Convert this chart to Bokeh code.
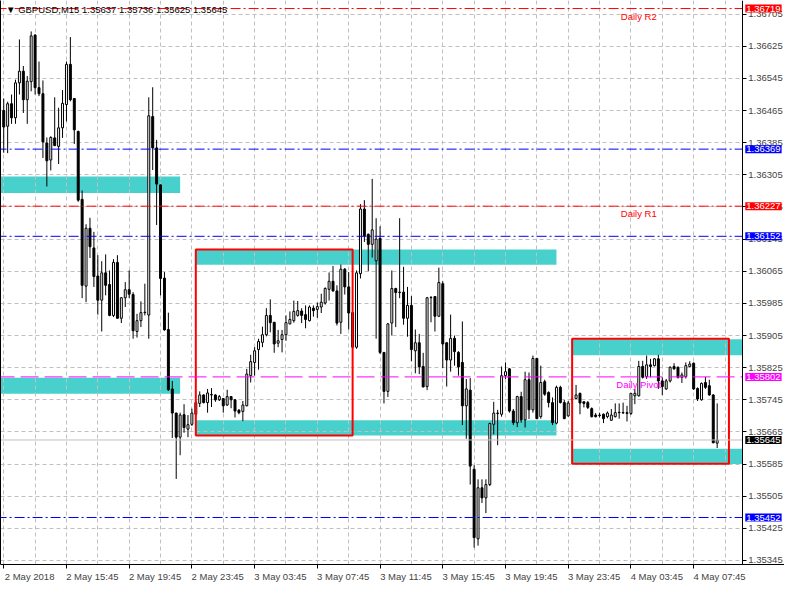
from bokeh.plotting import figure
from bokeh.models import (Range1d, FixedTicker, Label, ColumnDataSource,
                          PrintfTickFormatter, LinearAxis)
from bokeh.embed import file_html
from bokeh.resources import INLINE

# ---------------- data (GBPUSD M15) ----------------
OPEN = [1.36465,1.36426,1.36482,1.36447,1.36534,1.36563,1.36492,1.36537,1.36653,1.36522,
        1.36507,1.36384,1.36342,1.36397,1.36376,1.36422,1.36480,1.36580,1.36495,1.36413,
        1.36244,1.36028,1.36172,1.36123,1.36053,1.35993,1.36061,1.36032,1.35955,1.36087,
        1.35948,1.35999,1.36019,1.36007,1.35915,1.35942,1.35962,1.35956,1.36450,1.36372,
        1.36280,1.36048,1.35920,1.35772,1.35712,1.35652,1.35708,1.35672,1.35684,1.35709,
        1.35736,1.35757,1.35738,1.35758,1.35757,1.35745,1.35748,1.35732,1.35753,1.35745,
        1.35719,1.35716,1.35730,1.35805,1.35838,1.35870,1.35888,1.35907,1.35955,1.35938,
        1.35886,1.35895,1.35907,1.35934,1.35942,1.35955,1.35966,1.35957,1.35942,1.35973,
        1.35970,1.35976,1.35986,1.36020,1.36040,1.36016,1.35938,1.36070,1.36026,1.35962,
        1.35876,1.36059,1.36220,1.36157,1.36132,1.36091,1.36147,1.35863,1.35766,1.35936,
        1.36022,1.36012,1.36013,1.35948,1.35980,1.35867,1.35887,1.35828,1.35778,1.35999,
        1.36002,1.35953,1.36034,1.35887,1.35844,1.35898,1.35863,1.35838,1.35730,1.35769,
        1.35572,1.35399,1.35526,1.35501,1.35534,1.35684,1.35712,1.35709,1.35805,1.35822,
        1.35717,1.35688,1.35753,1.35695,1.35795,1.35720,1.35848,1.35703,1.35790,1.35763,
        1.35738,1.35687,1.35776,1.35738,1.35705,1.35747,1.35748,1.35761,1.35740,1.35738,
        1.35723,1.35707,1.35707,1.35709,1.35703,1.35694,1.35703,1.35713,1.35713,1.35713,
        1.35711,1.35755,1.35755,1.35828,1.35803,1.35832,1.35830,1.35847,1.35792,1.35772,
        1.35792,1.35828,1.35826,1.35801,1.35803,1.35828,1.35836,1.35773,1.35745,1.35788,
        1.35780,1.35757,1.35637]
HIGH = [1.36495,1.36487,1.36505,1.36542,1.36642,1.36576,1.36551,1.36662,1.36655,1.36587,
        1.36540,1.36398,1.36401,1.36498,1.36472,1.36516,1.36587,1.36648,1.36495,1.36415,
        1.36266,1.36182,1.36198,1.36163,1.36105,1.36090,1.36107,1.36067,1.36095,1.36105,
        1.36001,1.36038,1.36067,1.36013,1.35959,1.35990,1.36034,1.36498,1.36523,1.36392,
        1.36281,1.36063,1.35962,1.35792,1.35713,1.35713,1.35734,1.35707,1.35723,1.35740,
        1.35766,1.35759,1.35772,1.35774,1.35759,1.35757,1.35749,1.35770,1.35754,1.35747,
        1.35722,1.35742,1.35822,1.35857,1.35876,1.35897,1.35927,1.35973,1.35995,1.35938,
        1.35919,1.35919,1.35955,1.35965,1.35992,1.35991,1.35973,1.35980,1.35980,1.35980,
        1.35987,1.36009,1.36025,1.36062,1.36078,1.36030,1.36082,1.36073,1.36063,1.35963,
        1.36067,1.36232,1.36242,1.36159,1.36295,1.36197,1.36177,1.35864,1.35936,1.36067,
        1.36024,1.36197,1.36076,1.36026,1.36003,1.35920,1.35909,1.35862,1.36001,1.36003,
        1.36003,1.36074,1.36040,1.35888,1.35957,1.35905,1.35866,1.35940,1.35797,1.35799,
        1.35582,1.35547,1.35547,1.35547,1.35688,1.35740,1.35720,1.35828,1.35838,1.35824,
        1.35722,1.35755,1.35765,1.35815,1.35813,1.35855,1.35849,1.35830,1.35795,1.35766,
        1.35751,1.35780,1.35780,1.35745,1.35742,1.35751,1.35782,1.35763,1.35742,1.35742,
        1.35726,1.35712,1.35713,1.35711,1.35716,1.35722,1.35736,1.35736,1.35738,1.35730,
        1.35762,1.35772,1.35842,1.35842,1.35855,1.35847,1.35849,1.35857,1.35801,1.35797,
        1.35828,1.35836,1.35828,1.35813,1.35838,1.35841,1.35838,1.35776,1.35788,1.35802,
        1.35795,1.35759,1.35736]
LOW = [1.36360,1.36359,1.36432,1.36432,1.36505,1.36459,1.36432,1.36513,1.36505,1.36501,
       1.36347,1.36276,1.36316,1.36376,1.36332,1.36397,1.36438,1.36488,1.36382,1.36238,
       1.35998,1.35988,1.36098,1.36026,1.35957,1.35915,1.36005,1.35953,1.35951,1.35947,
       1.35936,1.35976,1.35998,1.35897,1.35900,1.35926,1.35955,1.35897,1.36317,1.36180,
       1.36005,1.35917,1.35767,1.35650,1.35548,1.35607,1.35663,1.35652,1.35680,1.35703,
       1.35727,1.35736,1.35713,1.35727,1.35740,1.35742,1.35713,1.35730,1.35724,1.35701,
       1.35709,1.35692,1.35729,1.35788,1.35805,1.35820,1.35876,1.35903,1.35913,1.35862,
       1.35876,1.35863,1.35892,1.35933,1.35937,1.35952,1.35936,1.35923,1.35940,1.35952,
       1.35949,1.35961,1.35982,1.35992,1.36014,1.35930,1.35909,1.36007,1.35920,1.35872,
       1.35872,1.36047,1.36138,1.36065,1.36099,1.35897,1.35859,1.35736,1.35752,1.35905,
       1.35926,1.35998,1.35932,1.35902,1.35841,1.35811,1.35809,1.35776,1.35769,1.35938,
       1.35915,1.35951,1.35824,1.35778,1.35815,1.35830,1.35805,1.35682,1.35648,1.35534,
       1.35377,1.35382,1.35488,1.35463,1.35530,1.35659,1.35632,1.35703,1.35797,1.35713,
       1.35682,1.35677,1.35688,1.35676,1.35697,1.35713,1.35697,1.35698,1.35755,1.35726,
       1.35682,1.35684,1.35736,1.35697,1.35703,1.35743,1.35747,1.35709,1.35726,1.35722,
       1.35701,1.35701,1.35701,1.35687,1.35699,1.35693,1.35701,1.35698,1.35711,1.35691,
       1.35707,1.35734,1.35753,1.35798,1.35797,1.35801,1.35828,1.35772,1.35757,1.35770,
       1.35788,1.35820,1.35798,1.35787,1.35798,1.35826,1.35770,1.35742,1.35743,1.35772,
       1.35755,1.35637,1.35625]
CLOSE = [1.36424,1.36482,1.36447,1.36534,1.36563,1.36492,1.36538,1.36651,1.36522,1.36507,
         1.36387,1.36340,1.36398,1.36378,1.36422,1.36483,1.36580,1.36492,1.36417,1.36242,
         1.36030,1.36172,1.36126,1.36052,1.35993,1.36061,1.36030,1.35955,1.36087,1.35948,
         1.35999,1.36019,1.36008,1.35917,1.35942,1.35962,1.35963,1.36452,1.36372,1.36282,
         1.36047,1.35919,1.35770,1.35712,1.35652,1.35707,1.35676,1.35683,1.35712,1.35738,
         1.35757,1.35738,1.35762,1.35757,1.35745,1.35753,1.35730,1.35753,1.35745,1.35717,
         1.35713,1.35732,1.35809,1.35840,1.35867,1.35890,1.35907,1.35955,1.35937,1.35884,
         1.35892,1.35907,1.35937,1.35945,1.35965,1.35967,1.35955,1.35945,1.35976,1.35967,
         1.35977,1.35988,1.36022,1.36040,1.36016,1.35936,1.36070,1.36026,1.35961,1.35876,
         1.36061,1.36220,1.36153,1.36132,1.36168,1.36145,1.35863,1.35766,1.35934,1.36022,
         1.36012,1.36013,1.35948,1.35980,1.35870,1.35887,1.35827,1.35777,1.35999,1.36000,
         1.35953,1.36037,1.35884,1.35844,1.35898,1.35865,1.35827,1.35730,1.35772,1.35580,
         1.35402,1.35526,1.35501,1.35534,1.35686,1.35712,1.35711,1.35805,1.35815,1.35717,
         1.35688,1.35753,1.35695,1.35795,1.35720,1.35848,1.35698,1.35788,1.35759,1.35738,
         1.35688,1.35776,1.35738,1.35698,1.35737,1.35746,1.35757,1.35737,1.35736,1.35726,
         1.35703,1.35703,1.35706,1.35698,1.35712,1.35707,1.35713,1.35714,1.35712,1.35711,
         1.35761,1.35761,1.35828,1.35801,1.35832,1.35828,1.35847,1.35792,1.35778,1.35792,
         1.35826,1.35822,1.35801,1.35807,1.35830,1.35834,1.35772,1.35747,1.35786,1.35776,
         1.35757,1.35638,1.35645]

PRICE_TICKS = [1.35345, 1.35425, 1.35505, 1.35585, 1.35665, 1.35745, 1.35825, 1.35905,
               1.35985, 1.36065, 1.36145, 1.36225, 1.36305, 1.36385, 1.36465, 1.36545,
               1.36625, 1.36705]
TIME_TICKS = [0, 16, 32, 48, 64, 80, 96, 112, 128, 144, 160, 176]
TIME_LABELS = ["2 May 2018", "2 May 15:45", "2 May 19:45", "2 May 23:45", "3 May 03:45",
               "3 May 07:45", "3 May 11:45", "3 May 15:45", "3 May 19:45", "3 May 23:45",
               "4 May 03:45", "4 May 07:45"]

LEVEL_PRICES = [1.36719, 1.36369, 1.36227, 1.36152, 1.35802, 1.35645, 1.35452]
LEVEL_COLORS = ["#ff0000", "#0000ff", "#ff0000", "#0000ff", "#ff00ff", "#c0c0c0", "#0000ff"]
LEVEL_TAG_BG = ["#ff0000", "#0000ff", "#ff0000", "#0000ff", "#ff00ff", "#000000", "#0000ff"]
LEVEL_STYLE = ["dashdot", "dashdot", "dashdot", "dashdot", "dash", "solid", "dashdot"]
LEVEL_NAMES = {0: "Daily R2", 2: "Daily R1", 4: "Daily Pivot"}

ZONE_LEFT = [-1, -1, 49, 49, 145, 145]
ZONE_RIGHT = [45, 45, 141, 141, 188.42, 188.42]
ZONE_TOP = [1.36301, 1.35800, 1.36119, 1.35694, 1.35896, 1.35623]
ZONE_BOTTOM = [1.36260, 1.35760, 1.36081, 1.35656, 1.35856, 1.35585]

BOX_LEFT = [49, 145]
BOX_RIGHT = [89, 185]
BOX_TOP = [1.36119, 1.35897]
BOX_BOTTOM = [1.35656, 1.35586]

TITLE = "\u25bc GBPUSD,M15  1.35637 1.35736 1.35625 1.35645"

# ---------------- layout constants ----------------
FONT = "Liberation Sans"
FS = "9.5px"
GRID = "#c0c0c0"
X0, X1 = -0.825, 199.175        # visible bar range (includes price-scale strip)
AXIS_X = 188.42                 # where the price scale sits
LABEL_SHIFT = 6.6               # left-aligned look for time labels

p = figure(width=784, height=584, output_backend="svg", toolbar_location=None,
           x_range=Range1d(X0, X1), y_range=Range1d(1.35335, 1.36739),
           y_axis_location="right",
           min_border_left=0, min_border_top=0, min_border_right=0, min_border_bottom=0)
p.background_fill_color = "white"
p.border_fill_color = "white"
p.outline_line_color = None

# price axis (fixed at the right edge of the chart area)
ya = p.yaxis[0]
ya.fixed_location = AXIS_X
ya.ticker = FixedTicker(ticks=PRICE_TICKS)
ya.formatter = PrintfTickFormatter(format="%.5f")
ya.major_tick_out = 4
ya.major_tick_in = 0
ya.minor_tick_line_color = None
ya.major_label_standoff = 2
ya.major_label_text_font = FONT
ya.major_label_text_font_size = FS
ya.axis_line_color = "black"

# left frame line
la = LinearAxis(ticker=FixedTicker(ticks=[]), major_tick_out=0, major_tick_in=0,
                minor_tick_out=0, minor_tick_in=0, major_label_standoff=0,
                axis_line_color="black")
p.add_layout(la, "left")

# time axis: labels left-aligned at the (minor) tick marks
lab_ticks = [t + LABEL_SHIFT for t in TIME_TICKS]
xa = p.xaxis[0]
xa.ticker = FixedTicker(ticks=lab_ticks, minor_ticks=TIME_TICKS)
xa.major_label_overrides = {t: s for t, s in zip(lab_ticks, TIME_LABELS)}
xa.major_tick_line_color = None
xa.major_tick_out = 0
xa.major_tick_in = 0
xa.minor_tick_line_color = "black"
xa.minor_tick_out = 4
xa.minor_tick_in = 0
xa.major_label_standoff = 2
xa.major_label_text_font = FONT
xa.major_label_text_font_size = FS
xa.axis_line_color = "black"

p.xgrid.ticker = FixedTicker(ticks=list(range(0, 189, 8)))
p.ygrid.ticker = FixedTicker(ticks=PRICE_TICKS)
for g in (p.xgrid[0], p.ygrid[0]):
    g.grid_line_color = GRID
    g.grid_line_dash = "4 3"
    g.grid_line_width = 1

# zones (background)
zsrc = ColumnDataSource(dict(left=ZONE_LEFT, right=ZONE_RIGHT, top=ZONE_TOP, bottom=ZONE_BOTTOM))
zr = p.quad(left="left", right="right", top="top", bottom="bottom", source=zsrc,
            fill_color="#48d1cc", line_color=None)
zr.level = "image"

# blank strip behind the price scale
p.quad(left=[AXIS_X], right=[X1 + 5], top=[2.0], bottom=[1.0], fill_color="white", line_color=None)

# candles
n = len(OPEN)
xs = list(range(n))
body_top = [max(o, c) for o, c in zip(OPEN, CLOSE)]
body_bot = [min(o, c) for o, c in zip(OPEN, CLOSE)]
fills = ["white" if c >= o else "black" for o, c in zip(OPEN, CLOSE)]
csrc = ColumnDataSource(dict(x=xs, high=HIGH, low=LOW, top=body_top, bottom=body_bot, fill=fills))
p.segment(x0="x", y0="low", x1="x", y1="high", source=csrc, line_color="black", line_width=1)
p.vbar(x="x", width=0.5, top="top", bottom="bottom", source=csrc,
       fill_color="fill", line_color="black", line_width=1)

# red boxes
bsrc = ColumnDataSource(dict(left=BOX_LEFT, right=BOX_RIGHT, top=BOX_TOP, bottom=BOX_BOTTOM))
p.quad(left="left", right="right", top="top", bottom="bottom", source=bsrc,
       fill_color=None, line_color="#ff0000", line_width=2)

# levels
DASHES = {"dashdot": "10 3 2 3", "dash": "18 6", "solid": "solid"}
for i, (lv, col, bg, st) in enumerate(zip(LEVEL_PRICES, LEVEL_COLORS, LEVEL_TAG_BG, LEVEL_STYLE)):
    p.segment(x0=[X0 - 1], x1=[AXIS_X], y0=[lv], y1=[lv], line_color=col, line_width=1,
              line_dash=DASHES[st])
    p.add_layout(Label(x=AXIS_X + 0.75, y=lv, text=f"{lv:.5f}", text_color="white",
                       text_font=FONT, text_font_size=FS, text_align="left",
                       text_baseline="middle", background_fill_color=bg, padding=1))
    if i in LEVEL_NAMES:
        p.add_layout(Label(x=162, y=lv, text=LEVEL_NAMES[i], text_color=col,
                           text_font=FONT, text_font_size=FS, text_align="center",
                           text_baseline="top", y_offset=-2))

p.add_layout(Label(x=0.6, y=1.36716, text=TITLE, text_color="black", text_font=FONT,
                   text_font_size=FS, text_align="left", text_baseline="middle"))

open("out.html", "w").write(file_html(p, INLINE))
